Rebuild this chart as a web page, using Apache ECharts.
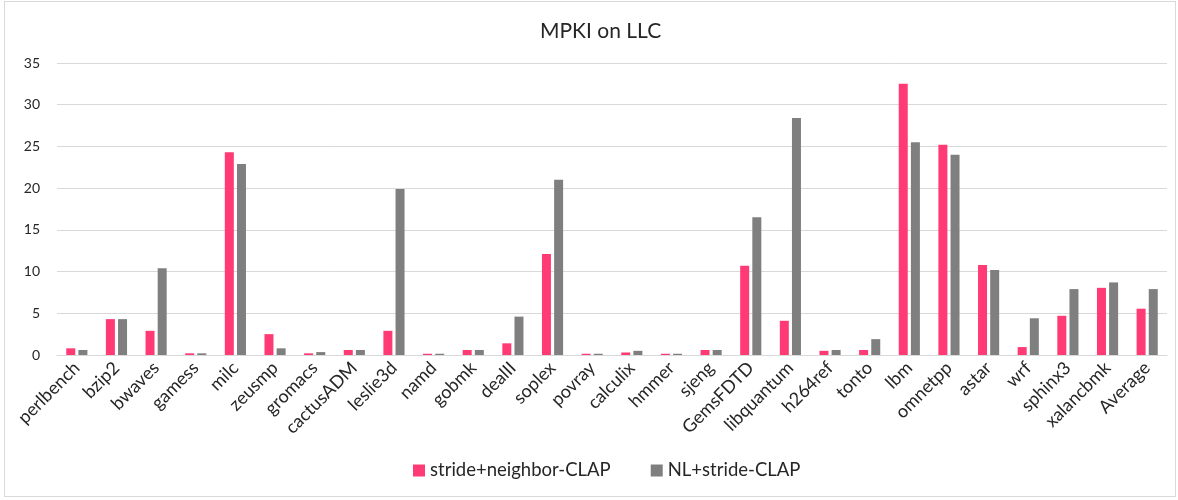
<!DOCTYPE html>
<html><head><meta charset="utf-8">
<script src="https://cdn.jsdelivr.net/npm/echarts@6/dist/echarts.min.js"></script>
<style>
html,body{margin:0;padding:0;background:#fff;}
#wrap{position:absolute;left:4px;top:1px;width:1172px;height:496px;border:1px solid #d9d9d9;box-sizing:border-box;}
#c{position:absolute;left:0;top:0;width:1178px;height:500px;}
</style></head>
<body>
<div id="wrap"></div>
<div id="c"></div>
<script>
const categories = ["perlbench","bzip2","bwaves","gamess","milc","zeusmp","gromacs","cactusADM","leslie3d","namd","gobmk","dealII","soplex","povray","calculix","hmmer","sjeng","GemsFDTD","libquantum","h264ref","tonto","lbm","omnetpp","astar","wrf","sphinx3","xalancbmk","Average"];
const strideNeighbor = [0.8,4.3,2.9,0.2,24.3,2.5,0.2,0.6,2.9,0.15,0.6,1.4,12.1,0.15,0.3,0.15,0.6,10.7,4.1,0.5,0.6,32.5,25.2,10.8,0.95,4.7,8.05,5.55];
const nlStride = [0.6,4.3,10.4,0.2,22.9,0.8,0.35,0.6,19.9,0.15,0.6,4.6,21.0,0.15,0.5,0.15,0.6,16.5,28.4,0.6,1.9,25.5,24.0,10.2,4.4,7.9,8.7,7.9];
const seriesNames = ["stride+neighbor-CLAP","NL+stride-CLAP"];
const yTicks = [0,5,10,15,20,25,30,35];

const font = "Lato, 'Open Sans', sans-serif";
const chart = echarts.init(document.getElementById('c'));
chart.setOption({
  animation:false,
  title:{text:"MPKI on LLC",left:535,top:16,textStyle:{fontFamily:font,fontSize:21,fontWeight:'normal',color:'#262626'}},
  legend:{bottom:15,left:408,itemWidth:12,itemHeight:12,itemGap:40,icon:'rect',
    textStyle:{fontFamily:font,fontSize:18.5,color:'#262626'},data:seriesNames},
  grid:{left:57,right:11,top:63,bottom:145,containLabel:false},
  xAxis:{type:'category',data:categories,
    axisLine:{lineStyle:{color:'#d9d9d9',width:1}},axisTick:{show:false},
    axisLabel:{rotate:45,interval:0,fontFamily:font,fontSize:18,color:'#262626',margin:10}},
  yAxis:{type:'value',min:yTicks[0],max:yTicks[yTicks.length-1],interval:5,
    axisLine:{show:false},axisTick:{show:false},
    axisLabel:{fontFamily:font,fontSize:14,color:'#262626',margin:17},
    splitLine:{lineStyle:{color:'#d9d9d9',width:1}}},
  series:[
    {name:seriesNames[0],type:'bar',data:strideNeighbor,barWidth:9,barGap:'35%',itemStyle:{color:'#ff3a74'}},
    {name:seriesNames[1],type:'bar',data:nlStride,barWidth:9,itemStyle:{color:'#7f7f7f'}}
  ]
});
</script>
</body></html>
